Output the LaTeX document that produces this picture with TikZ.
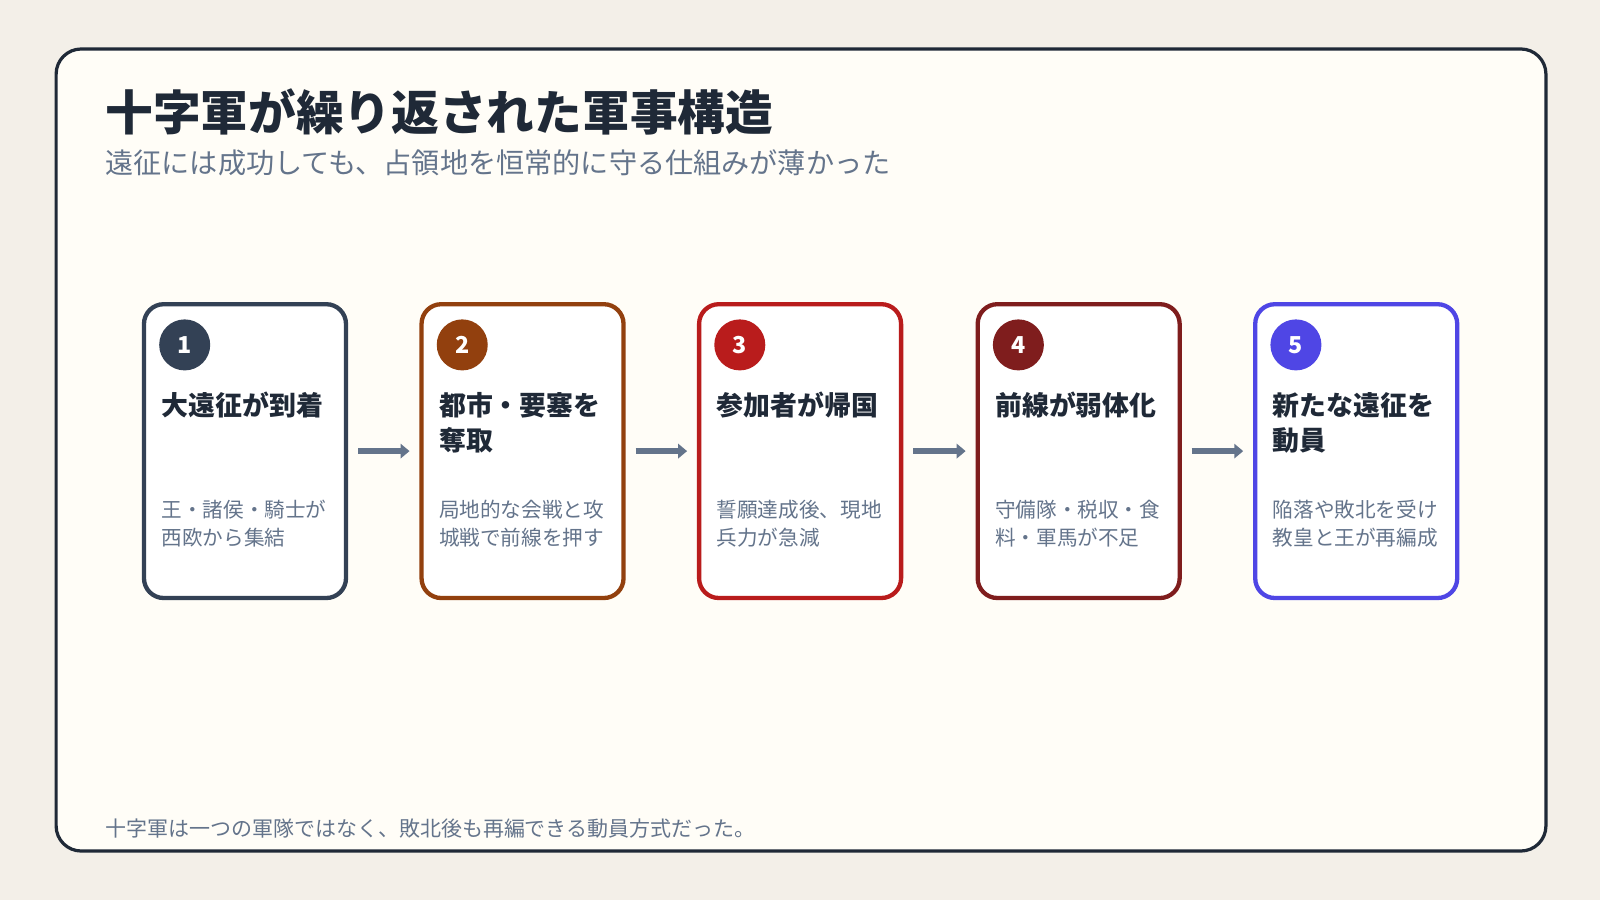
\documentclass[tikz,border=0pt]{standalone}
\usepackage{fontspec}
\setmainfont{Noto Sans CJK JP}
\usepackage{xcolor}
\usetikzlibrary{arrows.meta,positioning}
\definecolor{pagebg}{HTML}{F3EFE8}
\definecolor{cardbg}{HTML}{FFFDF7}
\definecolor{ink}{HTML}{1F2937}
\definecolor{muted}{HTML}{64748B}
\definecolor{stepA}{HTML}{334155}
\definecolor{stepB}{HTML}{92400E}
\definecolor{stepC}{HTML}{B91C1C}
\definecolor{stepD}{HTML}{7F1D1D}
\definecolor{stepE}{HTML}{4F46E5}

\begin{document}
\begin{tikzpicture}[
    x=0.02cm, y=-0.02cm,
    step/.style={
        draw=#1,
        line width=2.4pt,
        rounded corners=11pt,
        fill=white,
        minimum width=3.96cm,
        minimum height=5.76cm,
        anchor=north west
    },
    badge/.style={
        circle,
        fill=#1,
        minimum size=1cm,
        inner sep=0pt,
        text=white,
        font=\bfseries\fontsize{13}{13}\selectfont
    },
    steptitle/.style={
        anchor=north west,
        align=left,
        inner sep=0pt,
        text=ink,
        font=\bfseries\fontsize{15}{19.5}\selectfont
    },
    stepnote/.style={
        anchor=north west,
        align=left,
        inner sep=0pt,
        text=muted,
        font=\fontsize{11.5}{15.5}\selectfont
    },
    arrow/.style={-{Triangle[length=5pt,width=8pt]}, line width=3pt, draw=muted}
]

% ----------------------------------------------------------
% BACKGROUND
% ----------------------------------------------------------

\fill[pagebg] (0,0) rectangle (1568,882);
\useasboundingbox (0,0) rectangle (1568,882);
\draw[ink, line width=1.8pt, fill=cardbg, rounded corners=14pt] (55,48) rectangle (1515,834);

\node[anchor=west, inner sep=0pt, text=ink, font=\bfseries\fontsize{26.6}{26.6}\selectfont]
    (title) at (103,110) {十字軍が繰り返された軍事構造};
\node[anchor=west, inner sep=0pt, text=muted, font=\fontsize{15.7}{15.7}\selectfont]
    (subtitle) at (103,160) {遠征には成功しても、占領地を恒常的に守る仕組みが薄かった};

% ----------------------------------------------------------
% STEPS
% ----------------------------------------------------------

\foreach \i/\x/\col/\head/\note in {
    1/139/stepA/{大遠征が到着}/{王・諸侯・騎士が\\西欧から集結},
    2/411/stepB/{都市・要塞を\\奪取}/{局地的な会戦と攻\\城戦で前線を押す},
    3/683/stepC/{参加者が帰国}/{誓願達成後、現地\\兵力が急減},
    4/956/stepD/{前線が弱体化}/{守備隊・税収・食\\料・軍馬が不足},
    5/1228/stepE/{新たな遠征を\\動員}/{陥落や敗北を受け\\教皇と王が再編成}}{
    \node[step=\col] (box\i) at (\x,296) {};
    \node[badge=\col] (num\i) at (\x+42,338) {\i};
    \node[steptitle] (head\i) at (\x+19,384) {\head};
    \node[stepnote] (note\i) at (\x+19,490) {\note};
}

% ----------------------------------------------------------
% ARROWS
% ----------------------------------------------------------

\foreach \a/\b in {1/2, 2/3, 3/4, 4/5}{
    \draw[arrow] ([xshift=5.5pt]box\a.east) -- ([xshift=-5.5pt]box\b.west);
}

% ----------------------------------------------------------
% FOOTER
% ----------------------------------------------------------

\node[anchor=west, inner sep=0pt, text=muted, font=\fontsize{11.7}{11.7}\selectfont]
    (footer) at (103,812) {十字軍は一つの軍隊ではなく、敗北後も再編できる動員方式だった。};

\end{tikzpicture}
\end{document}
